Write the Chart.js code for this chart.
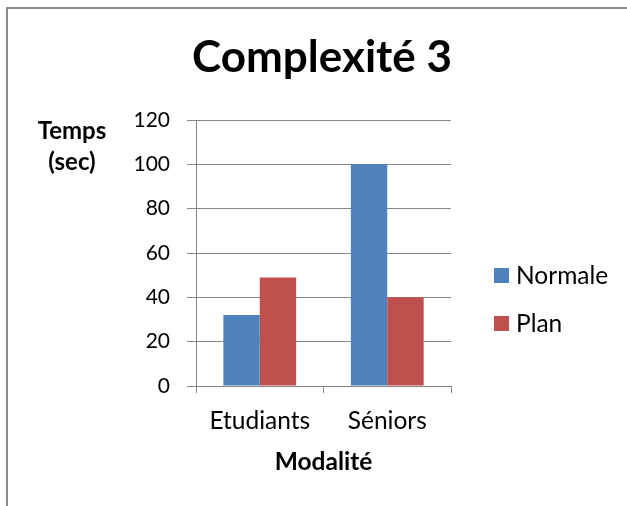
<!DOCTYPE html>
<html>
<head>
<meta charset="utf-8">
<script src="https://cdn.jsdelivr.net/npm/chart.js@4.4.0/dist/chart.umd.min.js"></script>
<style>
  html, body { margin: 0; padding: 0; background: #ffffff; }
  #wrap { position: relative; width: 627px; height: 506px; overflow: hidden; background: #fff; }
  #frame { position: absolute; left: 6px; top: 7px; width: 640px; height: 520px;
           border-top: 2px solid #8c8c8c; border-left: 2px solid #8c8c8c; box-sizing: border-box; }
  canvas { position: absolute; left: 0; top: 0; }
</style>
</head>
<body>
<div id="wrap">
  <div id="frame"></div>
  <canvas id="c" width="627" height="506"></canvas>
</div>
<script>
// ---- data ----
const chartTitle = "Complexité 3";
const categories = ["Etudiants", "Séniors"];
const seriesNames = ["Normale", "Plan"];
const normaleValues = [32, 100];
const planValues = [49, 40];
const yTitleLines = ["Temps", "(sec)"];
const xTitle = "Modalité";
const yMin = 0, yMax = 120, yStep = 20;

const FONT = "Lato";
const AXIS = "#868686";

const textPlugin = {
  id: "textPlugin",
  afterDraw(chart) {
    const ctx = chart.ctx;
    ctx.save();
    ctx.fillStyle = "#000";
    ctx.textAlign = "center";
    ctx.textBaseline = "middle";
    // chart title
    ctx.font = "bold 44px " + FONT;
    ctx.fillText(chartTitle, 322, 58);
    // y axis title (horizontal, two lines)
    ctx.font = "bold 24px " + FONT;
    yTitleLines.forEach((t, i) => ctx.fillText(t, 72, 131 + i * 31));
    ctx.restore();
  }
};

const legendPlugin = {
  id: "legendPlugin",
  afterDraw(chart) {
    const ctx = chart.ctx;
    ctx.save();
    ctx.font = "24.5px " + FONT;
    ctx.textAlign = "left";
    ctx.textBaseline = "middle";
    chart.data.datasets.forEach((ds, i) => {
      const cy = 276 + i * 48;
      ctx.fillStyle = ds.backgroundColor;
      ctx.fillRect(494, cy - 8, 15, 15);
      ctx.fillStyle = "#000";
      ctx.fillText(ds.label, 516, cy);
    });
    ctx.restore();
  }
};

new Chart(document.getElementById("c"), {
  type: "bar",
  data: {
    labels: categories,
    datasets: [
      { label: seriesNames[0], data: normaleValues, backgroundColor: "#4F81BD", borderWidth: 0 },
      { label: seriesNames[1], data: planValues, backgroundColor: "#C0504D", borderWidth: 0 }
    ]
  },
  options: {
    responsive: false,
    animation: false,
    devicePixelRatio: 1,
    layout: { padding: { top: 120, right: 176, left: 0, bottom: 0 } },
    datasets: { bar: { categoryPercentage: 0.571, barPercentage: 1.0 } },
    plugins: {
      legend: { display: false },
      tooltip: { enabled: false },
      title: { display: false }
    },
    scales: {
      x: {
        afterFit(scale) { scale.height = 120; },
        grid: { drawOnChartArea: false, drawTicks: true, tickLength: 7, color: AXIS, lineWidth: 1 },
        border: { color: AXIS, width: 1 },
        ticks: { color: "#000", font: { family: FONT, size: 24.5, lineHeight: 1.2 }, padding: 13 },
        title: {
          display: true, text: xTitle, color: "#000",
          font: { family: FONT, size: 24.5, weight: "bold", lineHeight: 1.2 },
          padding: { top: 0, bottom: 29 }
        }
      },
      y: {
        min: yMin, max: yMax,
        afterFit(scale) { scale.width = 196; },
        ticks: { stepSize: yStep, color: "#000", font: { family: FONT, size: 21 }, padding: 17 },
        grid: { color: AXIS, lineWidth: 1, tickLength: 9, drawTicks: true },
        border: { color: AXIS, width: 1 }
      }
    }
  },
  plugins: [textPlugin, legendPlugin]
});
</script>
</body>
</html>
